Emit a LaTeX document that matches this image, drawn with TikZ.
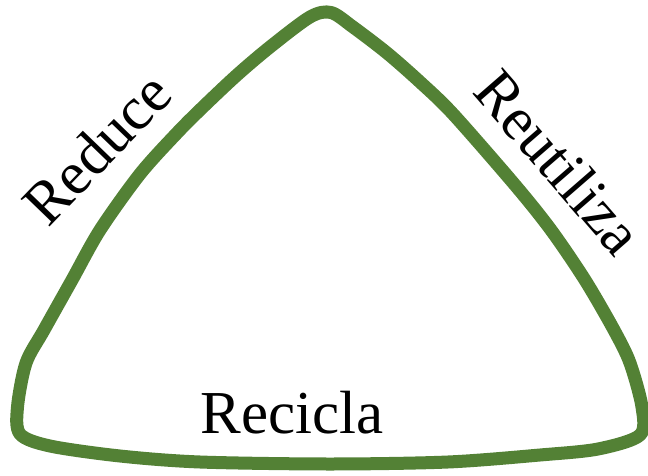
\documentclass[tikz,border=0pt]{standalone}
\usepackage{fontspec}
\setmainfont{Liberation Serif}
\usepackage{xcolor}
\definecolor{leafgreen}{RGB}{83,129,53}
\tikzset{
  rim/.style={draw=leafgreen, line width=13pt, line join=round},
  word/.style={font=\fontsize{61}{64}\selectfont, inner sep=0pt}
}

\begin{document}
\begin{tikzpicture}[x=1pt,y=1pt]
  \useasboundingbox (0,0) rectangle (648,475);
  % rounded triangle, traced through points of its centre line
  \draw[rim] plot[smooth cycle] coordinates {
    (331,462.5) (310,458) (270,428) (237,400) (203,368) (177,342) (140,301)
    (100,245) (72,195) (44,145) (26,112) (17.5,68) (20,41)
    (50,29) (120,19) (200,13) (330,11) (448,13) (540,20) (598,26)
    (640,40) (642,68) (630,112) (614,145) (585,195) (551,245) (515,290)
    (453,361) (420,393) (387,422) (353,448)};
  \node[word, rotate=46] (reduce) at (97,327) {Reduce};
  \node[word, rotate=-49] (reutiliza) at (559,313) {Reutiliza};
  \node[word, anchor=base] (recicla) at (292,42) {Recicla};
\end{tikzpicture}
\end{document}
